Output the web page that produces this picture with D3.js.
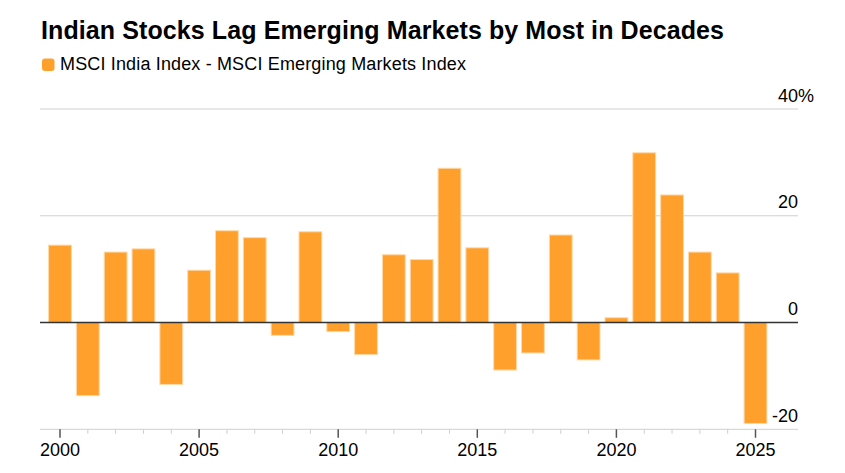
<!DOCTYPE html>
<html>
<head>
<meta charset="utf-8">
<script src="https://cdn.jsdelivr.net/npm/d3@7"></script>
<style>
  body { margin: 0; background: #fff; }
  text { font-family: "Liberation Sans", Arial, sans-serif; fill: #000; }
</style>
</head>
<body>
<div id="chart"></div>
<script>
const years = d3.range(2000, 2026);
const diffs = [14.5, -13.7, 13.2, 13.8, -11.6, 9.8, 17.2, 15.9, -2.4, 17.0,
    -1.7, -6.0, 12.7, 11.8, 28.9, 14.0, -8.9, -5.7, 16.4, -7.0,
    0.9, 31.8, 23.9, 13.2, 9.3, -18.9];
const yTicks = [-20, 0, 20, 40];
const xLabelYears = [2000, 2005, 2010, 2015, 2020, 2025];

const width = 845, height = 473;
const svg = d3.select("#chart").append("svg")
    .attr("width", width)
    .attr("height", height);

const x = d3.scaleLinear().domain([2000, 2025]).range([60, 755.5]);
const y = d3.scaleLinear().domain([-20, 40]).range([429.3, 109]);
const step = x(2001) - x(2000);
const barW = step * 0.82;

// title + legend
svg.append("text")
    .attr("x", 41).attr("y", 38.5)
    .style("font-size", "25px").style("font-weight", "bold")
    .attr("textLength", 683).attr("lengthAdjust", "spacing")
    .text("Indian Stocks Lag Emerging Markets by Most in Decades");

svg.append("rect")
    .attr("x", 42).attr("y", 58.5).attr("width", 12.5).attr("height", 12.5)
    .attr("rx", 3).attr("fill", "#ffa02c");
svg.append("text")
    .attr("x", 60).attr("y", 69.5)
    .style("font-size", "18px")
    .attr("textLength", 406).attr("lengthAdjust", "spacing")
    .text("MSCI India Index - MSCI Emerging Markets Index");

// gridlines
svg.selectAll(".grid").data(yTicks.filter(d => d !== 0)).enter()
    .append("line")
    .attr("class", "grid")
    .attr("x1", 40).attr("x2", 798)
    .attr("y1", d => y(d)).attr("y2", d => y(d))
    .attr("stroke", "#cfcfcf").attr("stroke-width", 1);

// y labels
svg.selectAll(".ylab").data(yTicks).enter()
    .append("text")
    .attr("class", "ylab")
    .attr("x", 798).attr("y", d => y(d) - 7.5)
    .style("font-size", "18px")
    .style("text-anchor", "end")
    .text(d => d);
svg.append("text")
    .attr("x", 798).attr("y", y(40) - 7.5)
    .style("font-size", "18px")
    .text("%");

// bars
svg.selectAll(".bar").data(years).enter()
    .append("rect")
    .attr("class", "bar")
    .attr("x", (d, i) => x(d) - barW / 2)
    .attr("width", barW)
    .attr("y", (d, i) => y(Math.max(0, diffs[i])))
    .attr("height", (d, i) => Math.abs(y(diffs[i]) - y(0)))
    .attr("fill", "#ffa02c")
    .attr("stroke", "#ffd9a8")
    .attr("stroke-width", 1);

// zero line
svg.append("line")
    .attr("x1", 40).attr("x2", 798)
    .attr("y1", y(0)).attr("y2", y(0))
    .attr("stroke", "#333").attr("stroke-width", 1.5);

// x ticks
svg.selectAll(".tick").data(years).enter()
    .append("line")
    .attr("x1", d => x(d)).attr("x2", d => x(d))
    .attr("y1", y(-20))
    .attr("y2", d => d % 5 === 0 ? y(-20) + 8.5 : y(-20) + 4.5)
    .attr("stroke", d => d % 5 === 0 ? "#555" : "#cfcfcf")
    .attr("stroke-width", d => d % 5 === 0 ? 1.5 : 1);

svg.selectAll(".xlab").data(xLabelYears).enter()
    .append("text")
    .attr("x", d => x(d)).attr("y", 455.5)
    .style("font-size", "18px")
    .style("text-anchor", "middle")
    .text(d => d);
</script>
</body>
</html>
